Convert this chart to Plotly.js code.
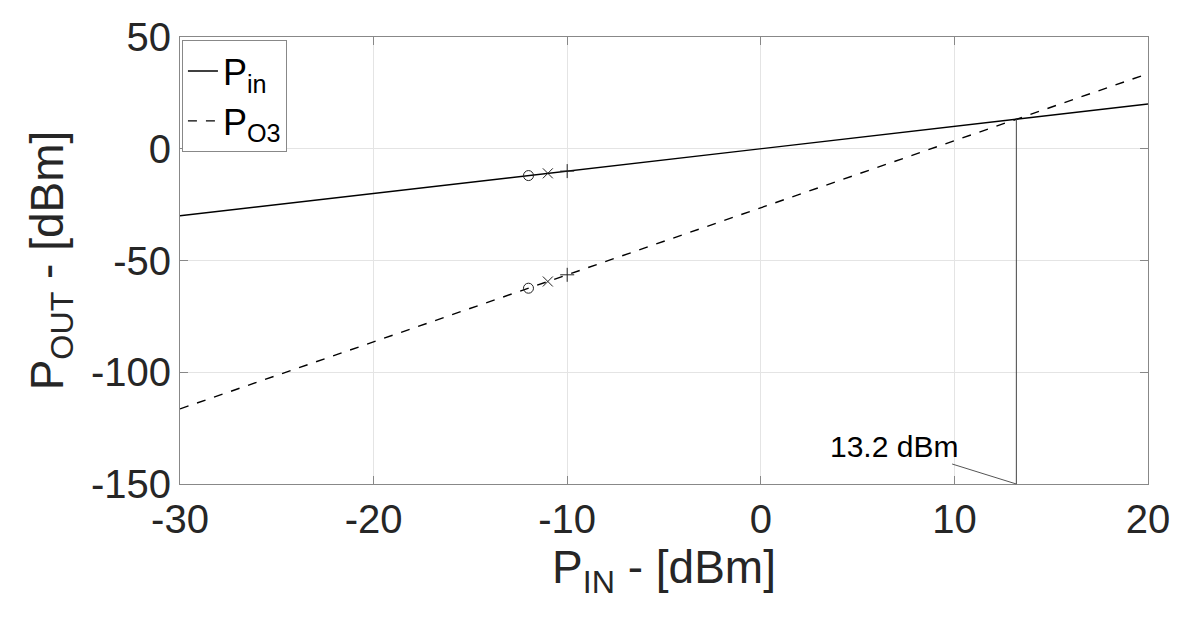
<!DOCTYPE html>
<html>
<head>
<meta charset="utf-8">
<script src="https://cdn.plot.ly/plotly-3.0.1.min.js"></script>
<style>
  body { margin: 0; background: #fff; }
  #chart { width: 1186px; height: 618px; }
</style>
</head>
<body>
<div id="chart"></div>
<script>
// input power sweep ends and the two output curves
const pinX = [-30, 20];
const pinY = [-30, 20];
const po3X = [-30, 20];
const po3Y = [-116.4, 33.6];

// marked points on both curves
const markX = [-12, -11, -10];
const pinMarkY = [-12, -11, -10];
const po3MarkY = [-62.4, -59.4, -56.4];
const markSymbols = ["circle-open", "x-thin-open", "cross-thin-open"];

// third-order intercept point
const iip3 = 13.2;
const iip3Label = "13.2 dBm";
const yBottom = -150;

// tick labels (plain hyphen as in the original figure)
const xTicks = [-30, -20, -10, 0, 10, 20];
const yTicks = [-150, -100, -50, 0, 50];
const xTickText = xTicks.map(String);
const yTickText = yTicks.map(String);

const chart = document.getElementById("chart");
const font = "Liberation Sans, Arial, sans-serif";

let traces = [
  {
    x: pinX, y: pinY, mode: "lines", name: "P<sub>in</sub>",
    line: { color: "#000", width: 1.4 },
  },
  {
    x: po3X, y: po3Y, mode: "lines", name: "P<sub>O3</sub>",
    line: { color: "#000", width: 1.4, dash: "dash" },
  },
  {
    x: markX, y: pinMarkY, mode: "markers", showlegend: false,
    marker: { symbol: markSymbols, size: 10, color: "#222", line: { width: 1, color: "#222" } },
  },
  {
    x: markX, y: po3MarkY, mode: "markers", showlegend: false,
    marker: { symbol: markSymbols, size: 10, color: "#222", line: { width: 1, color: "#222" } },
  },
  {
    x: [iip3, iip3], y: [yBottom, iip3], mode: "lines", showlegend: false,
    line: { color: "#444", width: 1 },
  },
];

const axisCommon = {
  showline: true,
  mirror: "ticks",
  linecolor: "#888",
  linewidth: 1,
  ticks: "inside",
  ticklen: 8,
  tickcolor: "#888",
  showgrid: true,
  gridcolor: "#e4e4e4",
  zeroline: false,
  tickmode: "array",
  tickfont: { family: font, size: 40, color: "#262626" },
};

var layout = {
  width: 1186,
  height: 618,
  margin: { l: 180, r: 38, t: 37, b: 134 },
  paper_bgcolor: "#fff",
  plot_bgcolor: "#fff",
  font: { family: font, color: "#262626" },
  showlegend: true,
  legend: {
    x: 0.002, y: 0.993, xanchor: "left", yanchor: "top",
    bgcolor: "#fff", bordercolor: "#888", borderwidth: 1,
    font: { family: font, size: 36, color: "#000" },
    itemwidth: 30, tracegroupgap: 0,
  },
  xaxis: Object.assign({}, axisCommon, {
    range: [-30, 20],
    tickvals: xTicks,
    ticktext: xTickText,
    title: { text: "P<sub>IN</sub> - [dBm]", font: { family: font, size: 46, color: "#262626" }, standoff: 6 },
  }),
  yaxis: Object.assign({}, axisCommon, {
    range: [-150, 50],
    tickvals: yTicks,
    ticktext: yTickText,
    title: { text: "P<sub>OUT</sub> - [dBm]", font: { family: font, size: 46, color: "#262626" }, standoff: 12 },
  }),
  annotations: [
    {
      x: iip3, y: yBottom, xref: "x", yref: "y",
      text: iip3Label,
      showarrow: true, arrowhead: 0, arrowwidth: 1, arrowcolor: "#555",
      ax: -122, ay: -38,
      font: { family: font, size: 30, color: "#000" },
    },
  ],
};

Plotly.newPlot(chart, traces, layout, { displayModeBar: false, staticPlot: true });
</script>
</body>
</html>
